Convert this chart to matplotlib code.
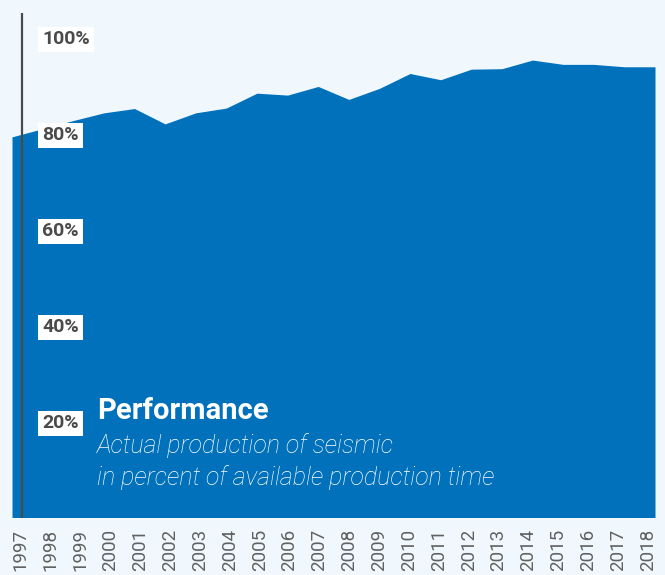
import matplotlib
matplotlib.use("Agg")
import matplotlib.pyplot as plt
import matplotlib.transforms as mtransforms

years = list(range(1997, 2019))
performance = [79.3, 81.0, 82.7, 84.3, 85.2, 82.0, 84.3, 85.3, 88.4, 88.0, 89.8,
               87.1, 89.4, 92.5, 91.2, 93.4, 93.5, 95.3, 94.4, 94.4, 93.9, 93.9]
ytick_values = [20, 40, 60, 80, 100]
ytick_labels = ["20%", "40%", "60%", "80%", "100%"]
title = "Performance"
subtitle = ["Actual production of seismic", "in percent of available production time"]

BG = "#F0F8FE"
BLUE = "#0071BA"
DARK = "#4A4A4A"

W, H = 665, 575
fig = plt.figure(figsize=(W / 100, H / 100), dpi=100, facecolor=BG)
ax = fig.add_axes([12 / W, (H - 517.5) / H, (655 - 12) / W, 517.5 / H])
ax.set_facecolor(BG)
ax.set_xlim(1997, 2018)
ax.set_ylim(0, 517.5 / 4.8)
for s in ax.spines.values():
    s.set_visible(False)
ax.set_yticks([])

ax.fill_between(years, 0, performance, color=BLUE, lw=0, zorder=2)

# vertical axis line
ax.plot([1997.34, 1997.34], [0, 105.1], color=DARK, lw=1.6, zorder=3,
        solid_capstyle="butt", clip_on=False)

# y labels in white boxes
trans = mtransforms.blended_transform_factory(fig.transFigure, ax.transData)
offset = mtransforms.ScaledTranslation(0, -2 / 100, fig.dpi_scale_trans)
for v, lab in zip(ytick_values, ytick_labels):
    ax.text(42 / W, v, lab, transform=trans + offset, ha="left", va="center",
            fontsize=14, fontweight="bold", color=DARK, family="Roboto",
            bbox=dict(boxstyle="square,pad=0.2", fc="white", ec="none"), zorder=5)

# x labels
tick_pos = [1997.29 + (y - 1997) * 0.975 for y in years]
ax.set_xticks(tick_pos)
ax.set_xticklabels([str(y) for y in years], rotation=90, fontsize=13.5,
                   color="#606060", family="Roboto", fontweight="normal")
ax.tick_params(axis="x", length=0, pad=8)

# titles
fig.text(97 / W, 1 - 411 / H, title, ha="left", va="center", fontsize=21,
         fontweight="bold", color="white", family="Roboto")
fig.text(97 / W, 1 - 446 / H, subtitle[0], ha="left", va="center", fontsize=18,
         style="italic", fontweight="light", color="white", family="Roboto")
fig.text(97 / W, 1 - 478 / H, subtitle[1], ha="left", va="center", fontsize=18,
         style="italic", fontweight="light", color="white", family="Roboto")

fig.savefig("out.png", dpi=100, facecolor=BG)
